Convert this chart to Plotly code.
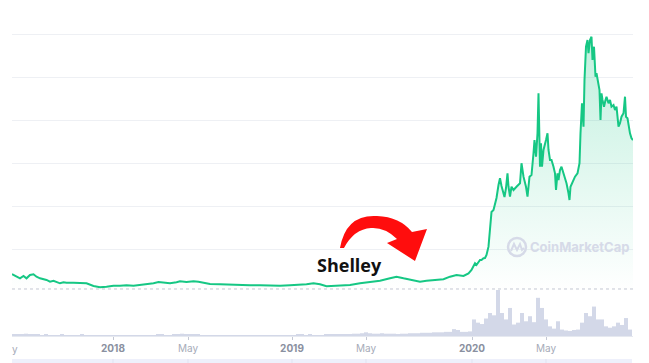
import plotly.graph_objects as go

# ---------------- data ----------------
# days since start of the series
days = [0, 9, 16, 23, 29, 36, 43, 49, 56, 69,
        76, 83, 89, 96, 103, 109, 123, 136, 149, 163,
        176, 189, 203, 216, 229, 243, 256, 269, 283, 293,
        303, 316, 329, 336, 349, 363, 373, 383, 396, 416,
        436, 456, 476, 496, 516, 536, 556, 576, 589, 603,
        616, 629, 649, 676, 696, 716, 736, 756, 769, 783,
        803, 816, 829, 843, 863, 876, 889, 903, 913, 919,
        926, 929, 936, 939, 943, 946, 949, 953, 956, 959,
        963, 966, 969, 973, 976, 979, 983, 985, 988, 991,
        993, 996, 999, 1003, 1009, 1016, 1019, 1023, 1028, 1031,
        1035, 1039, 1043, 1045, 1048, 1051, 1053, 1055, 1056, 1058,
        1060, 1063, 1065, 1068, 1071, 1073, 1076, 1079, 1083, 1086,
        1088, 1091, 1093, 1096, 1099, 1103, 1106, 1109, 1113, 1115,
        1117, 1121, 1126, 1131, 1135, 1137, 1140, 1143, 1145, 1148,
        1151, 1153, 1156, 1159, 1161, 1164, 1167, 1169, 1172, 1175,
        1177, 1179, 1181, 1184, 1187, 1189, 1193, 1196, 1199, 1203,
        1206, 1209, 1213, 1216, 1219, 1223, 1226, 1228, 1231, 1233,
        1236, 1239, 1242]

prices = [0.209, 0.178, 0.159, 0.186, 0.159, 0.198, 0.206, 0.178, 0.159, 0.140,
          0.120, 0.131, 0.113, 0.101, 0.113, 0.108, 0.108, 0.101, 0.101, 0.070,
          0.055, 0.062, 0.073, 0.073, 0.078, 0.073, 0.081, 0.090, 0.101, 0.116,
          0.108, 0.101, 0.113, 0.124, 0.116, 0.124, 0.120, 0.108, 0.093, 0.090,
          0.085, 0.078, 0.078, 0.078, 0.073, 0.073, 0.078, 0.081, 0.090, 0.101,
          0.090, 0.066, 0.070, 0.081, 0.101, 0.120, 0.131, 0.159, 0.178, 0.159,
          0.140, 0.120, 0.131, 0.140, 0.148, 0.178, 0.198, 0.186, 0.217, 0.256,
          0.334, 0.314, 0.372, 0.372, 0.392, 0.395, 0.430, 0.527, 0.744, 0.930,
          0.953, 1.010, 1.093, 1.244, 1.322, 1.233, 1.151, 1.105, 1.209, 1.380,
          1.224, 1.108, 1.224, 1.186, 1.224, 1.264, 1.497, 1.341, 1.224, 1.108,
          1.341, 1.360, 1.613, 1.767, 1.573, 1.845, 2.310, 1.806, 1.457, 1.729,
          1.457, 1.651, 1.690, 1.767, 1.845, 1.651, 1.535, 1.535, 1.457, 1.380,
          1.186, 1.380, 1.302, 1.419, 1.457, 1.380, 1.341, 1.264, 1.148, 1.070,
          1.224, 1.283, 1.341, 1.380, 1.497, 1.845, 2.194, 1.922, 2.465, 2.852,
          2.930, 2.776, 2.930, 2.969, 2.698, 2.852, 2.503, 2.543, 2.427, 2.349,
          2.000, 2.310, 2.233, 2.155, 2.233, 2.271, 2.194, 2.233, 2.155, 2.174,
          2.116, 2.155, 1.922, 1.962, 2.038, 2.078, 2.271, 2.038, 2.020, 1.922,
          1.845, 1.787, 1.767]

# traded volume per 8-day bin
volume = [0.3, 0.4, 0.3, 0.5, 0.4, 0.3, 0.3, 0.2, 0.3, 0.2,
          0.2, 0.2, 0.3, 0.2, 0.2, 0.2, 0.2, 0.3, 0.2, 0.2,
          0.2, 0.2, 0.2, 0.2, 0.2, 0.2, 0.2, 0.2, 0.2, 0.2,
          0.2, 0.2, 0.2, 0.2, 0.2, 0.2, 0.3, 0.3, 0.2, 0.2,
          0.3, 0.4, 0.5, 0.4, 0.4, 0.3, 0.3, 0.2, 0.2, 0.2,
          0.2, 0.2, 0.2, 0.2, 0.2, 0.2, 0.2, 0.2, 0.2, 0.2,
          0.2, 0.2, 0.2, 0.2, 0.2, 0.2, 0.2, 0.2, 0.2, 0.2,
          0.2, 0.3, 0.3, 0.2, 0.3, 0.2, 0.2, 0.2, 0.3, 0.3,
          0.3, 0.3, 0.3, 0.4, 0.4, 0.5, 0.5, 0.6, 0.8, 0.6,
          0.5, 0.5, 0.6, 0.5, 0.5, 0.5, 0.4, 0.5, 0.5, 0.6,
          0.6, 0.6, 0.7, 0.7, 0.7, 0.8, 0.8, 0.8, 0.9, 0.9,
          1.5, 1.3, 0.9, 0.9, 1.0, 3.6, 2.9, 2.6, 3.8, 5.0,
          4.5, 10.0, 5.0, 3.6, 6.1, 2.5, 2.9, 5.0, 3.2, 4.3,
          3.0, 8.3, 6.1, 3.6, 2.1, 1.6, 3.2, 1.4, 1.2, 1.1,
          1.3, 1.4, 2.9, 5.0, 4.3, 6.4, 3.6, 3.6, 2.1, 1.8,
          2.1, 2.9, 2.4, 3.9, 1.4]
VOL_BIN = 8
vol_days = [VOL_BIN / 2 + VOL_BIN * i for i in range(len(volume))]

tick_days = [202, 352, 560, 708, 920, 1068]
tick_labels = ["2018", "May", "2019", "May", "2020", "May"]
baseline_price = 0.035

assert len(days) == len(prices)

# ---------------- geometry helpers (pixel -> paper) ----------------
W, H = 649, 363
ML, MR, MT, MB = 12, 16, 0, 27
PW, PH = W - ML - MR, H - MT - MB


def px(x):
    return (x - ML) / PW


def py(y):
    return (H - MB - y) / PH


def path(cmds):
    out = []
    for c in cmds:
        if isinstance(c, str):
            out.append(c)
        else:
            out.append(f"{px(c[0]):.5f},{py(c[1]):.5f}")
    return " ".join(out)


GREEN = "#16c784"

fig = go.Figure()
fig.add_trace(go.Bar(
    x=vol_days, y=volume, yaxis="y2", width=VOL_BIN,
    marker=dict(color="#d3d8e8", line=dict(width=0)),
    hoverinfo="skip"))
fig.add_trace(go.Scatter(
    x=days, y=prices, mode="lines",
    line=dict(color=GREEN, width=2),
    fill="tozeroy",
    fillgradient=dict(type="vertical",
                      colorscale=[[0, "rgba(22,199,132,0.0)"],
                                  [1, "rgba(22,199,132,0.27)"]]),
    hoverinfo="skip"))

ticktext = []
for t in tick_labels:
    if t.isdigit():
        ticktext.append(f"<span style='color:#8a90a0'><b>{t}</b></span>")
    else:
        ticktext.append(f"<span style='color:#a6abb9'>{t}</span>")

shapes = []
# dotted reference line
shapes.append(dict(type="line", xref="paper", x0=0, x1=1, yref="y",
                   y0=baseline_price, y1=baseline_price,
                   line=dict(color="#c3c7d2", width=1, dash="dot"), layer="below"))
# bottom navigator strip
shapes.append(dict(type="rect", xref="paper", yref="paper", x0=0, x1=px(632),
                   y0=py(363), y1=py(359), fillcolor="#eef0fb", line=dict(width=0)))
for td in tick_days:
    shapes.append(dict(type="line", xref="x", yref="paper", x0=td, x1=td,
                       y0=py(363), y1=py(359), line=dict(color="#e0e3f1", width=1)))
# red curved arrow
arrow = path(["M", (340, 248),
              "Q", (346, 214), (377, 216),
              "Q", (400, 217), (412, 232),
              "L", (427, 229), "L", (415, 261), "L", (387, 243), "L", (397, 239),
              "Q", (385, 227), (371, 228),
              "Q", (354, 229), (344, 248), "Z"])
shapes.append(dict(type="path", xref="paper", yref="paper", path=arrow,
                   fillcolor="#ff0d0d", line=dict(width=0)))
# watermark logo
shapes.append(dict(type="circle", xref="paper", yref="paper",
                   x0=px(508), x1=px(526), y0=py(256), y1=py(238),
                   line=dict(color="#d6dae8", width=2.5)))
wave = path(["M", (511, 251), "L", (514, 244), "L", (517, 250), "L", (520, 244),
             "L", (522, 250), "L", (524, 248)])
shapes.append(dict(type="path", xref="paper", yref="paper", path=wave,
                   line=dict(color="#d6dae8", width=2)))

annotations = [
    dict(text="<b>Shelley</b>", xref="paper", yref="paper", x=px(349), y=py(265),
         showarrow=False, xanchor="center", yanchor="middle",
         font=dict(family="Open Sans", size=18, color="#111111")),
    dict(text="<b>CoinMarketCap</b>", xref="paper", yref="paper", x=px(579), y=py(247.5),
         showarrow=False, xanchor="center", yanchor="middle",
         font=dict(family="Inter", size=13, color="#d6dae8")),
    dict(text="y", xref="paper", yref="paper", x=px(14.5), y=py(348.5),
         showarrow=False, xanchor="center", yanchor="middle",
         font=dict(family="Inter", size=10, color="#a6abb9")),
]

fig.update_layout(
    width=W, height=H,
    margin=dict(l=ML, r=MR, t=MT, b=MB),
    paper_bgcolor="white", plot_bgcolor="white",
    showlegend=False,
    shapes=shapes, annotations=annotations,
    xaxis=dict(range=[0, 1242], tickvals=tick_days, ticktext=ticktext,
               showgrid=False, zeroline=False,
               showline=True, linecolor="#e6e9f0", linewidth=1,
               ticks="outside", ticklen=3, tickcolor="#c4c8d4", tickwidth=1,
               tickfont=dict(family="Inter", size=10, color="#a6abb9"),
               fixedrange=True),
    yaxis=dict(range=[-(H - MB - 292) / 86, 292 / 86],
               tickvals=[0.5, 1.0, 1.5, 2.0, 2.5, 3.0],
               showticklabels=False, showgrid=True, gridcolor="#eef0f4",
               gridwidth=1, zeroline=False, fixedrange=True),
    yaxis2=dict(domain=[0, 46 / PH], range=[0, 10], visible=False,
                anchor="x", fixedrange=True),
)

fig.write_html("out.html", config={"displayModeBar": False},
               post_script="document.body.style.margin='0px';")
